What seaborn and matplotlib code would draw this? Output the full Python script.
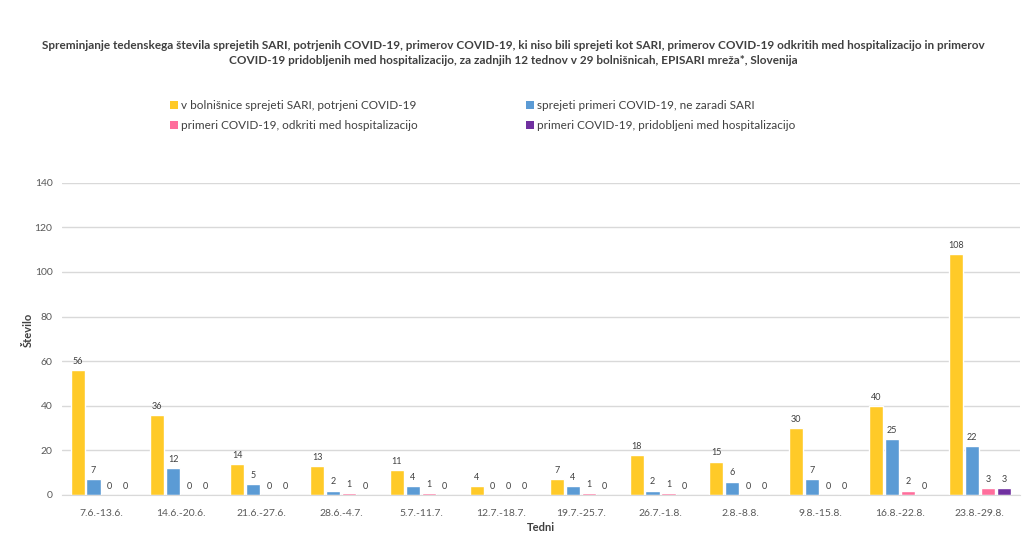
import matplotlib
matplotlib.use("Agg")
import matplotlib.pyplot as plt
import seaborn as sns
import pandas as pd

weeks = ["7.6.-13.6.", "14.6.-20.6.", "21.6.-27.6.", "28.6.-4.7.", "5.7.-11.7.", "12.7.-18.7.",
         "19.7.-25.7.", "26.7.-1.8.", "2.8.-8.8.", "9.8.-15.8.", "16.8.-22.8.", "23.8.-29.8."]
series_names = ["v bolnišnice sprejeti SARI, potrjeni COVID-19",
                "sprejeti primeri COVID-19, ne zaradi SARI",
                "primeri COVID-19, odkriti med hospitalizacijo",
                "primeri COVID-19, pridobljeni med hospitalizacijo"]
sari_confirmed = [56, 36, 14, 13, 11, 4, 7, 18, 15, 30, 40, 108]
not_sari = [7, 12, 5, 2, 4, 0, 4, 2, 6, 7, 25, 22]
detected_hosp = [0, 0, 0, 1, 1, 0, 1, 1, 0, 0, 2, 3]
acquired_hosp = [0, 0, 0, 0, 0, 0, 0, 0, 0, 0, 0, 3]
colors = ["#FFCA28", "#5B9BD5", "#FF6E9C", "#7030A0"]

title = ("Spreminjanje tedenskega števila sprejetih SARI, potrjenih COVID-19, primerov COVID-19, ki niso bili sprejeti kot SARI, primerov COVID-19 odkritih med hospitalizacijo in primerov\n"
         "COVID-19 pridobljenih med hospitalizacijo, za zadnjih 12 tednov v 29 bolnišnicah, EPISARI mreža*, Slovenija")

rows = []
for name, vals in zip(series_names, [sari_confirmed, not_sari, detected_hosp, acquired_hosp]):
    for w, v in zip(weeks, vals):
        rows.append({"Teden": w, "Serija": name, "Število": v})
df = pd.DataFrame(rows)

sns.set_style("white")
plt.rcParams['font.family'] = ['Lato', 'DejaVu Sans']

fig = plt.figure(figsize=(10.26, 5.33), dpi=100)
ax = fig.add_axes([0.060, 0.0713, 0.934, 0.586])

sns.barplot(data=df, x="Teden", y="Število", hue="Serija", hue_order=series_names,
            palette=colors, width=0.8, gap=0.12, ax=ax, legend=False, saturation=1)

for c in ax.containers:
    ax.bar_label(c, fmt="%d", padding=3, fontsize=6.5, color="#404040")

ax.set_ylim(0, 140)
ax.set_yticks(range(0, 141, 20))
ax.set_xlim(-0.5, len(weeks) - 0.5)
ax.yaxis.grid(True, color="#D9D9D9", linewidth=1)
ax.set_axisbelow(True)
for s in ["top", "right", "left"]:
    ax.spines[s].set_visible(False)
ax.spines["bottom"].set_color("#D9D9D9")
ax.tick_params(axis="both", length=0, labelsize=7.5, colors="#595959")
ax.tick_params(axis="x", pad=10)
ax.tick_params(axis="y", pad=6.5)
ax.set_xlabel("Tedni", fontsize=8, fontweight="bold", color="#404040", labelpad=3)
ax.set_ylabel("Število", fontsize=8, fontweight="bold", color="#404040")
ax.yaxis.set_label_coords(-0.029, 0.53)

fig.text(0.5, 0.900, title, ha="center", va="center", fontsize=8.5, fontweight="bold",
         color="#404040", linespacing=1.45)

from matplotlib.patches import Patch
handles = [Patch(facecolor=c, edgecolor="none") for c in colors]
leg = fig.legend(handles=[handles[0], handles[2], handles[1], handles[3]],
                 labels=[series_names[0], series_names[2], series_names[1], series_names[3]],
                 ncol=2, loc="center left", bbox_to_anchor=(0.155, 0.783), frameon=False,
                 fontsize=8.5, handlelength=0.7, handleheight=0.7, handletextpad=0.3,
                 columnspacing=9.1, labelspacing=0.75)
for t in leg.get_texts():
    t.set_color("#404040")

fig.savefig("out.png", dpi=100)
